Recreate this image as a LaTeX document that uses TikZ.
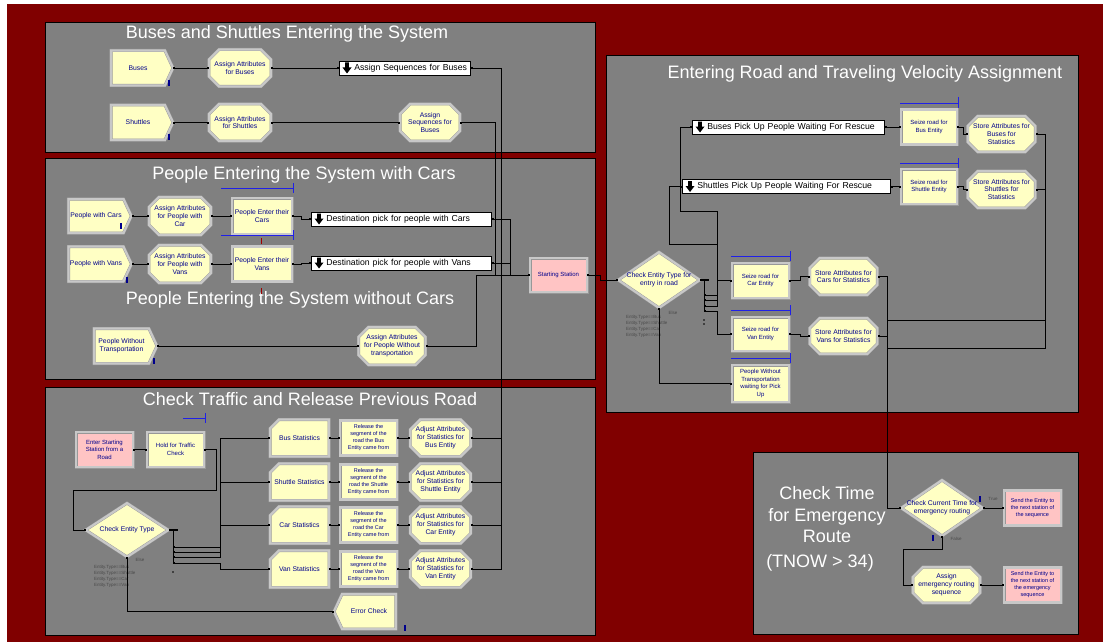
\documentclass[tikz,border=0pt]{standalone}
\usepackage{fontspec}
\setmainfont{Liberation Sans}
\usetikzlibrary{shapes.geometric,shapes.misc,shapes.symbols,arrows.meta}

\definecolor{frame}{HTML}{800000}
\definecolor{panelgrey}{HTML}{808080}
\definecolor{modfill}{HTML}{FFFFC4}
\definecolor{stfill}{HTML}{FFC4C4}
\definecolor{bevel}{HTML}{C8C8C8}
\definecolor{bevedge}{HTML}{989898}
\definecolor{mtblue}{HTML}{00008C}
\definecolor{resblue}{HTML}{2020E8}
\definecolor{condgrey}{HTML}{4A4A4A}
\definecolor{tickred}{HTML}{A00000}

\newcommand\modfont{\fontsize{6.8}{7.8}\selectfont}
\newcommand\smallmodfont{\fontsize{6}{7.6}\selectfont}
\newcommand\tinymodfont{\fontsize{5.5}{7}\selectfont}
\newcommand\labfont{\fontsize{8.7}{10}\selectfont}
\newcommand\titlefont{\fontsize{18}{21.5}\selectfont}
\newcommand\condfont{\fontsize{4.5}{6}\selectfont}

\tikzset{
  panel/.style={fill=panelgrey, draw=black, line width=0.8pt},
  mod/.style={draw=bevedge, line width=0.4pt, double=bevel, double distance=2.2pt,
    fill=modfill, text=mtblue, font=\modfont, align=center, inner sep=0.5pt},
  assign/.style={mod, chamfered rectangle, chamfered rectangle xsep=5pt, chamfered rectangle ysep=5pt},
  create/.style={mod, signal, signal to=east, signal pointer angle=130},
  dispose/.style={mod, signal, signal to=west, signal pointer angle=130},
  procbox/.style={mod, rectangle},
  record/.style={mod, chamfered rectangle, chamfered rectangle corners=north west,
    chamfered rectangle xsep=6pt, chamfered rectangle ysep=6pt},
  decide/.style={mod, diamond},
  station/.style={procbox, fill=stfill},
  mtxt/.style={text=mtblue, font=\modfont, align=center, inner sep=0pt},
  lab/.style={draw=black, line width=0.6pt, fill=white, font=\labfont, inner sep=1pt,
    minimum height=14, anchor=west, align=left, text width=#1},
  title/.style={text=white, font=\titlefont, align=center, inner sep=0pt},
  cond/.style={text=condgrey, font=\condfont, align=left, inner sep=0pt},
  conn/.style={draw=black, line width=0.7pt,
    {Square[length=1.8pt,width=1.8pt]}-{Square[length=1.8pt,width=1.8pt]}},
  plain/.style={draw=black, line width=0.7pt},
  resbar/.style={draw=resblue, line width=0.9pt},
  imark/.style={draw=mtblue, line width=1.3pt},
  rmark/.style={draw=tickred, line width=1pt},
  hand/.pic={\fill[black] (-1.8,-5.5) -- (1.8,-5.5) -- (1.8,-0.5) -- (4.5,-0.5)
    -- (0,5.5) -- (-4.5,-0.5) -- (-1.8,-0.5) -- cycle;}
}

\begin{document}
\begin{tikzpicture}[x=1pt,y=-1pt]
\useasboundingbox (0,0) rectangle (1104,642);
\fill[white] (0,0) rectangle (1104,642);
\fill[frame] (7,4) rectangle (1103,642);

% ---------- panels ----------
\draw[panel] (45,22) rectangle (595,152);
\draw[panel] (45,158) rectangle (595,379);
\draw[panel] (45,387) rectangle (595,635);
\draw[panel] (606,55) rectangle (1078,412);
\draw[panel] (753,452) rectangle (1078,634);

% ---------- titles ----------
\node[title] (t-bus) at (287,34) {Buses and Shuttles Entering the System};
\node[title] (t-car) at (304,175) {People Entering the System with Cars};
\node[title] (t-nocar) at (290,300) {People Entering the System without Cars};
\node[title] (t-traffic) at (310,399) {Check Traffic and Release Previous Road};
\node[title] (t-road) at (865,74) {Entering Road and Traveling Velocity Assignment};
\node[title] (t-time) at (827,515) {Check Time\\for Emergency\\Route};
\node[title] (t-tnow) at (820,563) {(TNOW > 34)};

% ---------- buses and shuttles ----------
\node[create, minimum width=62, minimum height=35] (buses) at (138,68) {Buses};
\node[assign, minimum width=59, minimum height=37] (aab) at (240,68) {Assign Attributes\\for Buses};
\node[lab=129pt] (asb) at (339,68) {\hspace*{14pt}Assign Sequences for Buses};
\node[create, minimum width=62, minimum height=35] (shuttles) at (138,122.5) {Shuttles};
\node[assign, minimum width=59, minimum height=37] (aas) at (240,122.5) {Assign Attributes\\for Shuttles};
\node[assign, minimum width=60, minimum height=37] (asq) at (430,122.5) {Assign\\Sequences for\\Buses};

% ---------- people with and without cars ----------
\node[create, minimum width=63, minimum height=34] (pwc) at (96,216) {People with Cars};
\node[assign, minimum width=60, minimum height=38] (aapc) at (180,216) {Assign Attributes\\for People with\\Car};
\node[procbox, minimum width=60, minimum height=36] (pec) at (262,216) {People Enter their\\Cars};
\node[lab=178pt] (dpc) at (311,219) {\hspace*{14pt}Destination pick for people with Cars};
\node[create, minimum width=63, minimum height=35] (pwv) at (96,264) {People with Vans};
\node[assign, minimum width=60, minimum height=38] (aapv) at (180,264) {Assign Attributes\\for People with\\Vans};
\node[procbox, minimum width=60, minimum height=35] (pev) at (262,264) {People Enter their\\Vans};
\node[lab=178pt] (dpv) at (311,263) {\hspace*{14pt}Destination pick for people with Vans};
\node[create, minimum width=63, minimum height=35] (pwt) at (121.5,346) {People Without\\Transportation};
\node[assign, minimum width=60, minimum height=38] (aapw) at (392,346) {Assign Attributes\\for People Without\\transportation};
\node[station, font=\smallmodfont, minimum width=57, minimum height=34] (ss) at (558.5,275) {Starting Station};

% ---------- check traffic and release previous road ----------
\node[station, font=\smallmodfont, minimum width=57, minimum height=35] (ess) at (104.5,449.5) {Enter Starting\\Station from a\\Road};
\node[procbox, font=\smallmodfont, minimum width=57, minimum height=35] (hold) at (175.5,449.5) {Hold for Traffic\\Check};
\node[decide, minimum width=83, minimum height=54] (cet) at (127,530) {};
\node[mtxt] (cet-t) at (cet) {Check Entity Type};
\node[cond, anchor=north west] (cet-c) at (94,565) {Entity.Type==Bus\\Entity.Type==Shuttle\\Entity.Type==Car\\Entity.Type==Van};
\node[cond] (cet-e) at (140,560) {Else};

\node[record, minimum width=59, minimum height=37] (bst) at (299.5,438) {Bus Statistics};
\node[procbox, font=\tinymodfont, minimum width=57, minimum height=35] (rbus) at (368.5,438) {Release the\\segment of the\\road the Bus\\Entity came from};
\node[assign, minimum width=57, minimum height=37] (abus) at (440.5,438) {Adjust Attributes\\for Statistics for\\Bus Entity};
\node[record, minimum width=59, minimum height=37] (sst) at (299.5,482) {Shuttle Statistics};
\node[procbox, font=\tinymodfont, minimum width=57, minimum height=35] (rshu) at (368.5,482) {Release the\\segment of the\\road the Shuttle\\Entity came from};
\node[assign, minimum width=57, minimum height=37] (ashu) at (440.5,482) {Adjust Attributes\\for Statistics for\\Shuttle Entity};
\node[record, minimum width=59, minimum height=37] (cst) at (299.5,525) {Car Statistics};
\node[procbox, font=\tinymodfont, minimum width=57, minimum height=35] (rcar) at (368.5,525) {Release the\\segment of the\\road the Car\\Entity came from};
\node[assign, minimum width=57, minimum height=37] (acar) at (440.5,525) {Adjust Attributes\\for Statistics for\\Car Entity};
\node[record, minimum width=59, minimum height=37] (vst) at (299.5,569) {Van Statistics};
\node[procbox, font=\tinymodfont, minimum width=57, minimum height=35] (rvan) at (368.5,569) {Release the\\segment of the\\road the Van\\Entity came from};
\node[assign, minimum width=57, minimum height=37] (avan) at (440.5,569) {Adjust Attributes\\for Statistics for\\Van Entity};
\node[dispose, minimum width=62, minimum height=35] (err) at (369,611.5) {Error Check};

% ---------- entering road ----------
\node[lab=190pt] (bpu) at (692,127) {\hspace*{14pt}Buses Pick Up People Waiting For Rescue};
\node[lab=206pt] (spu) at (682,186.5) {\hspace*{14pt}Shuttles Pick Up People Waiting For Rescue};
\node[procbox, font=\smallmodfont, minimum width=56, minimum height=35] (srb) at (929,127) {Seize road for\\Bus Entity};
\node[assign, minimum width=61, minimum height=36] (sab) at (1001.5,134) {Store Attributes for\\Buses for\\Statistics};
\node[procbox, font=\smallmodfont, minimum width=56, minimum height=35] (srs) at (929,186.5) {Seize road for\\Shuttle Entity};
\node[assign, minimum width=61, minimum height=37] (sas) at (1001.5,189.5) {Store Attributes for\\Shuttles for\\Statistics};
\node[decide, minimum width=82, minimum height=56] (cetr) at (659,280) {};
\node[mtxt] (cetr-t) at (cetr) {Check Entity Type for\\entry in road};
\node[cond, anchor=north west] (cetr-c) at (626,315) {Entity.Type==Bus\\Entity.Type==Shuttle\\Entity.Type==Car\\Entity.Type==Van};
\node[cond] (cetr-e) at (673,313) {Else};
\node[procbox, font=\smallmodfont, minimum width=57, minimum height=35] (src) at (760.5,280.5) {Seize road for\\Car Entity};
\node[assign, minimum width=59, minimum height=37] (sac) at (843.5,276.5) {Store Attributes for\\Cars for Statistics};
\node[procbox, font=\smallmodfont, minimum width=57, minimum height=34] (srv) at (760.5,334) {Seize road for\\Van Entity};
\node[assign, minimum width=59, minimum height=36] (sav) at (843.5,336) {Store Attributes for\\Vans for Statistics};
\node[procbox, font=\smallmodfont, minimum width=57, minimum height=37] (pwtw) at (760.5,383.5) {People Without\\Transportation\\waiting for Pick\\Up};

% ---------- check time for emergency route ----------
\node[decide, minimum width=82, minimum height=56] (cct) at (942,508) {};
\node[mtxt] (cct-t) at (cct) {Check Current Time for\\emergency routing};
\node[station, font=\tinymodfont, minimum width=57, minimum height=35] (snd1) at (1032.5,508) {Send the Entity to\\the next station of\\the sequence};
\node[assign, minimum width=61, minimum height=36] (aer) at (946.5,585) {Assign\\emergency routing\\sequence};
\node[station, font=\tinymodfont, minimum width=57, minimum height=35] (snd2) at (1032.5,585) {Send the Entity to\\the next station of\\the emergency\\sequence};
\node[cond] (cct-true) at (993,499) {True};
\node[cond] (cct-false) at (956,539) {False};

% ---------- label icons ----------
\pic at ([xshift=8pt]asb.west) {hand};
\pic at ([xshift=8pt]dpc.west) {hand};
\pic at ([xshift=8pt]dpv.west) {hand};
\pic at ([xshift=8pt]bpu.west) {hand};
\pic at ([xshift=8pt]spu.west) {hand};

% ---------- resource bars and module marks ----------
\draw[resbar] (221,188) -- (293,188) (293,183) -- (293,193);
\draw[resbar] (221,235) -- (293,235) (293,230) -- (293,240);
\draw[resbar] (183,418) -- (205,418) (205,413) -- (205,423);
\draw[resbar] (900,103) -- (958,103) (958,97) -- (958,108);
\draw[resbar] (900,163) -- (958,163) (958,158) -- (958,168);
\draw[resbar] (731,256) -- (790,256) (790,251) -- (790,261);
\draw[resbar] (731,310) -- (790,310) (790,305) -- (790,315);
\draw[resbar] (731,358) -- (790,358) (790,353) -- (790,363);
\draw[imark] (169,80) -- (169,86);
\draw[imark] (169,134) -- (169,140);
\draw[imark] (121,223) -- (121,229);
\draw[imark] (127,277) -- (127,283);
\draw[imark] (154,358) -- (154,364);
\draw[imark] (405,625) -- (405,631);
\draw[imark] (980,496) -- (980,502);
\draw[imark] (933,535) -- (933,541);
\draw[rmark] (261,238) -- (261,244);
\draw[rmark] (261,288) -- (261,294);

% ---------- connectors: buses and shuttles ----------
\draw[conn] (buses.east) -- (aab.west);
\draw[conn] (aab.east) -- (asb.west);
\draw[conn] (asb.east) -| (501,275) -- (ss.west);
\draw[conn] (shuttles.east) -- (aas.west);
\draw[conn] (aas.east) -- (asq.west);
\draw[conn] (asq.east) -| (495,275) -- (ss.west);

% ---------- connectors: people ----------
\draw[conn] (pwc.east) -- (aapc.west);
\draw[conn] (aapc.east) -- (pec.west);
\draw[conn] (pec.east) -- ++(9,0) |- (dpc.west);
\draw[conn] (dpc.east) -| (510,275) -- (ss.west);
\draw[conn] (pwv.east) -- (aapv.west);
\draw[conn] (aapv.east) -- (pev.west);
\draw[conn] (pev.east) -- ++(9,0) |- (dpv.west);
\draw[conn] (dpv.east) -| (510,275) -- (ss.west);
\draw[conn] (pwt.east) -- (aapw.west);
\draw[conn] (aapw.east) -| (476,275) -- (ss.west);
\draw[conn] (ss.east) -- ++(13,0) |- (cetr.west);

% ---------- connectors: entering road ----------
\coordinate (cr1) at (704,295);
\coordinate (cr2) at (704,300);
\coordinate (cr3) at (704,306);
\coordinate (cr4) at (704,311);
\draw[plain, line width=1.2pt] (cetr.east) -- ++(9,0);
\draw[plain] (704,280) -- (cr4);
\fill (704,320) circle (0.8) (704,324) circle (0.8);
\draw[conn] (cr1) -- (717,295) -- (717,211) -- (680,211) |- (bpu.west);
\draw[conn] (cr2) -- (717,300) -- (717,244) -- (669,244) |- (spu.west);
\draw[conn] (cr3) -- (717,306) |- (src.west);
\draw[conn] (cr4) -- (717,311) |- (srv.west);
\draw[conn] (cetr.south) |- (pwtw.west);
\draw[conn] (bpu.east) -- (srb.west);
\draw[conn] (srb.east) -- ++(6,0) |- (sab.west);
\draw[conn] (spu.east) -- (srs.west);
\draw[conn] (srs.east) -- ++(6,0) |- (sas.west);
\draw[conn] (src.east) -- ++(11,0) |- (sac.west);
\draw[conn] (srv.east) -- ++(11,0) |- (sav.west);
\draw[conn] (sab.east) -| (1045,348) -| (887,508) -- (cct.west);
\draw[conn] (sas.east) -| (1045,320) -| (887,508) -- (cct.west);
\draw[conn] (sac.east) -| (887,508) -- (cct.west);
\draw[conn] (sav.east) -| (887,508) -- (cct.west);

% ---------- connectors: emergency route ----------
\draw[conn] (cct.east) -- (snd1.west);
\draw[conn] (cct.south) -- ++(0,13) -| (903,585) -- (aer.west);
\draw[conn] (aer.east) -- (snd2.west);

% ---------- connectors: check traffic ----------
\coordinate (ce1) at (173,547);
\coordinate (ce2) at (173,552);
\coordinate (ce3) at (173,557);
\coordinate (ce4) at (173,563);
\draw[conn] (ess.east) -- (hold.west);
\draw[conn] (hold.east) -- ++(12,0) |- (73,490) |- (cet.west);
\draw[plain, line width=1.2pt] (cet.east) -- ++(9,0);
\draw[plain] (173,530) -- (ce4);
\fill (173,572) circle (0.8);
\draw[conn] (ce1) -- (220,547) |- (bst.west);
\draw[conn] (ce2) -- (220,552) |- (sst.west);
\draw[conn] (ce3) -- (220,557) |- (cst.west);
\draw[conn] (ce4) -- (220,563) |- (vst.west);
\draw[conn] (cet.south) |- (err.west);
\draw[conn] (bst.east) -- (rbus.west);
\draw[conn] (rbus.east) -- (abus.west);
\draw[conn] (abus.east) -| (501,275) -- (ss.west);
\draw[conn] (sst.east) -- (rshu.west);
\draw[conn] (rshu.east) -- (ashu.west);
\draw[conn] (ashu.east) -| (501,275) -- (ss.west);
\draw[conn] (cst.east) -- (rcar.west);
\draw[conn] (rcar.east) -- (acar.west);
\draw[conn] (acar.east) -| (501,275) -- (ss.west);
\draw[conn] (vst.east) -- (rvan.west);
\draw[conn] (rvan.east) -- (avan.west);
\draw[conn] (avan.east) -| (501,275) -- (ss.west);
\end{tikzpicture}
\end{document}
